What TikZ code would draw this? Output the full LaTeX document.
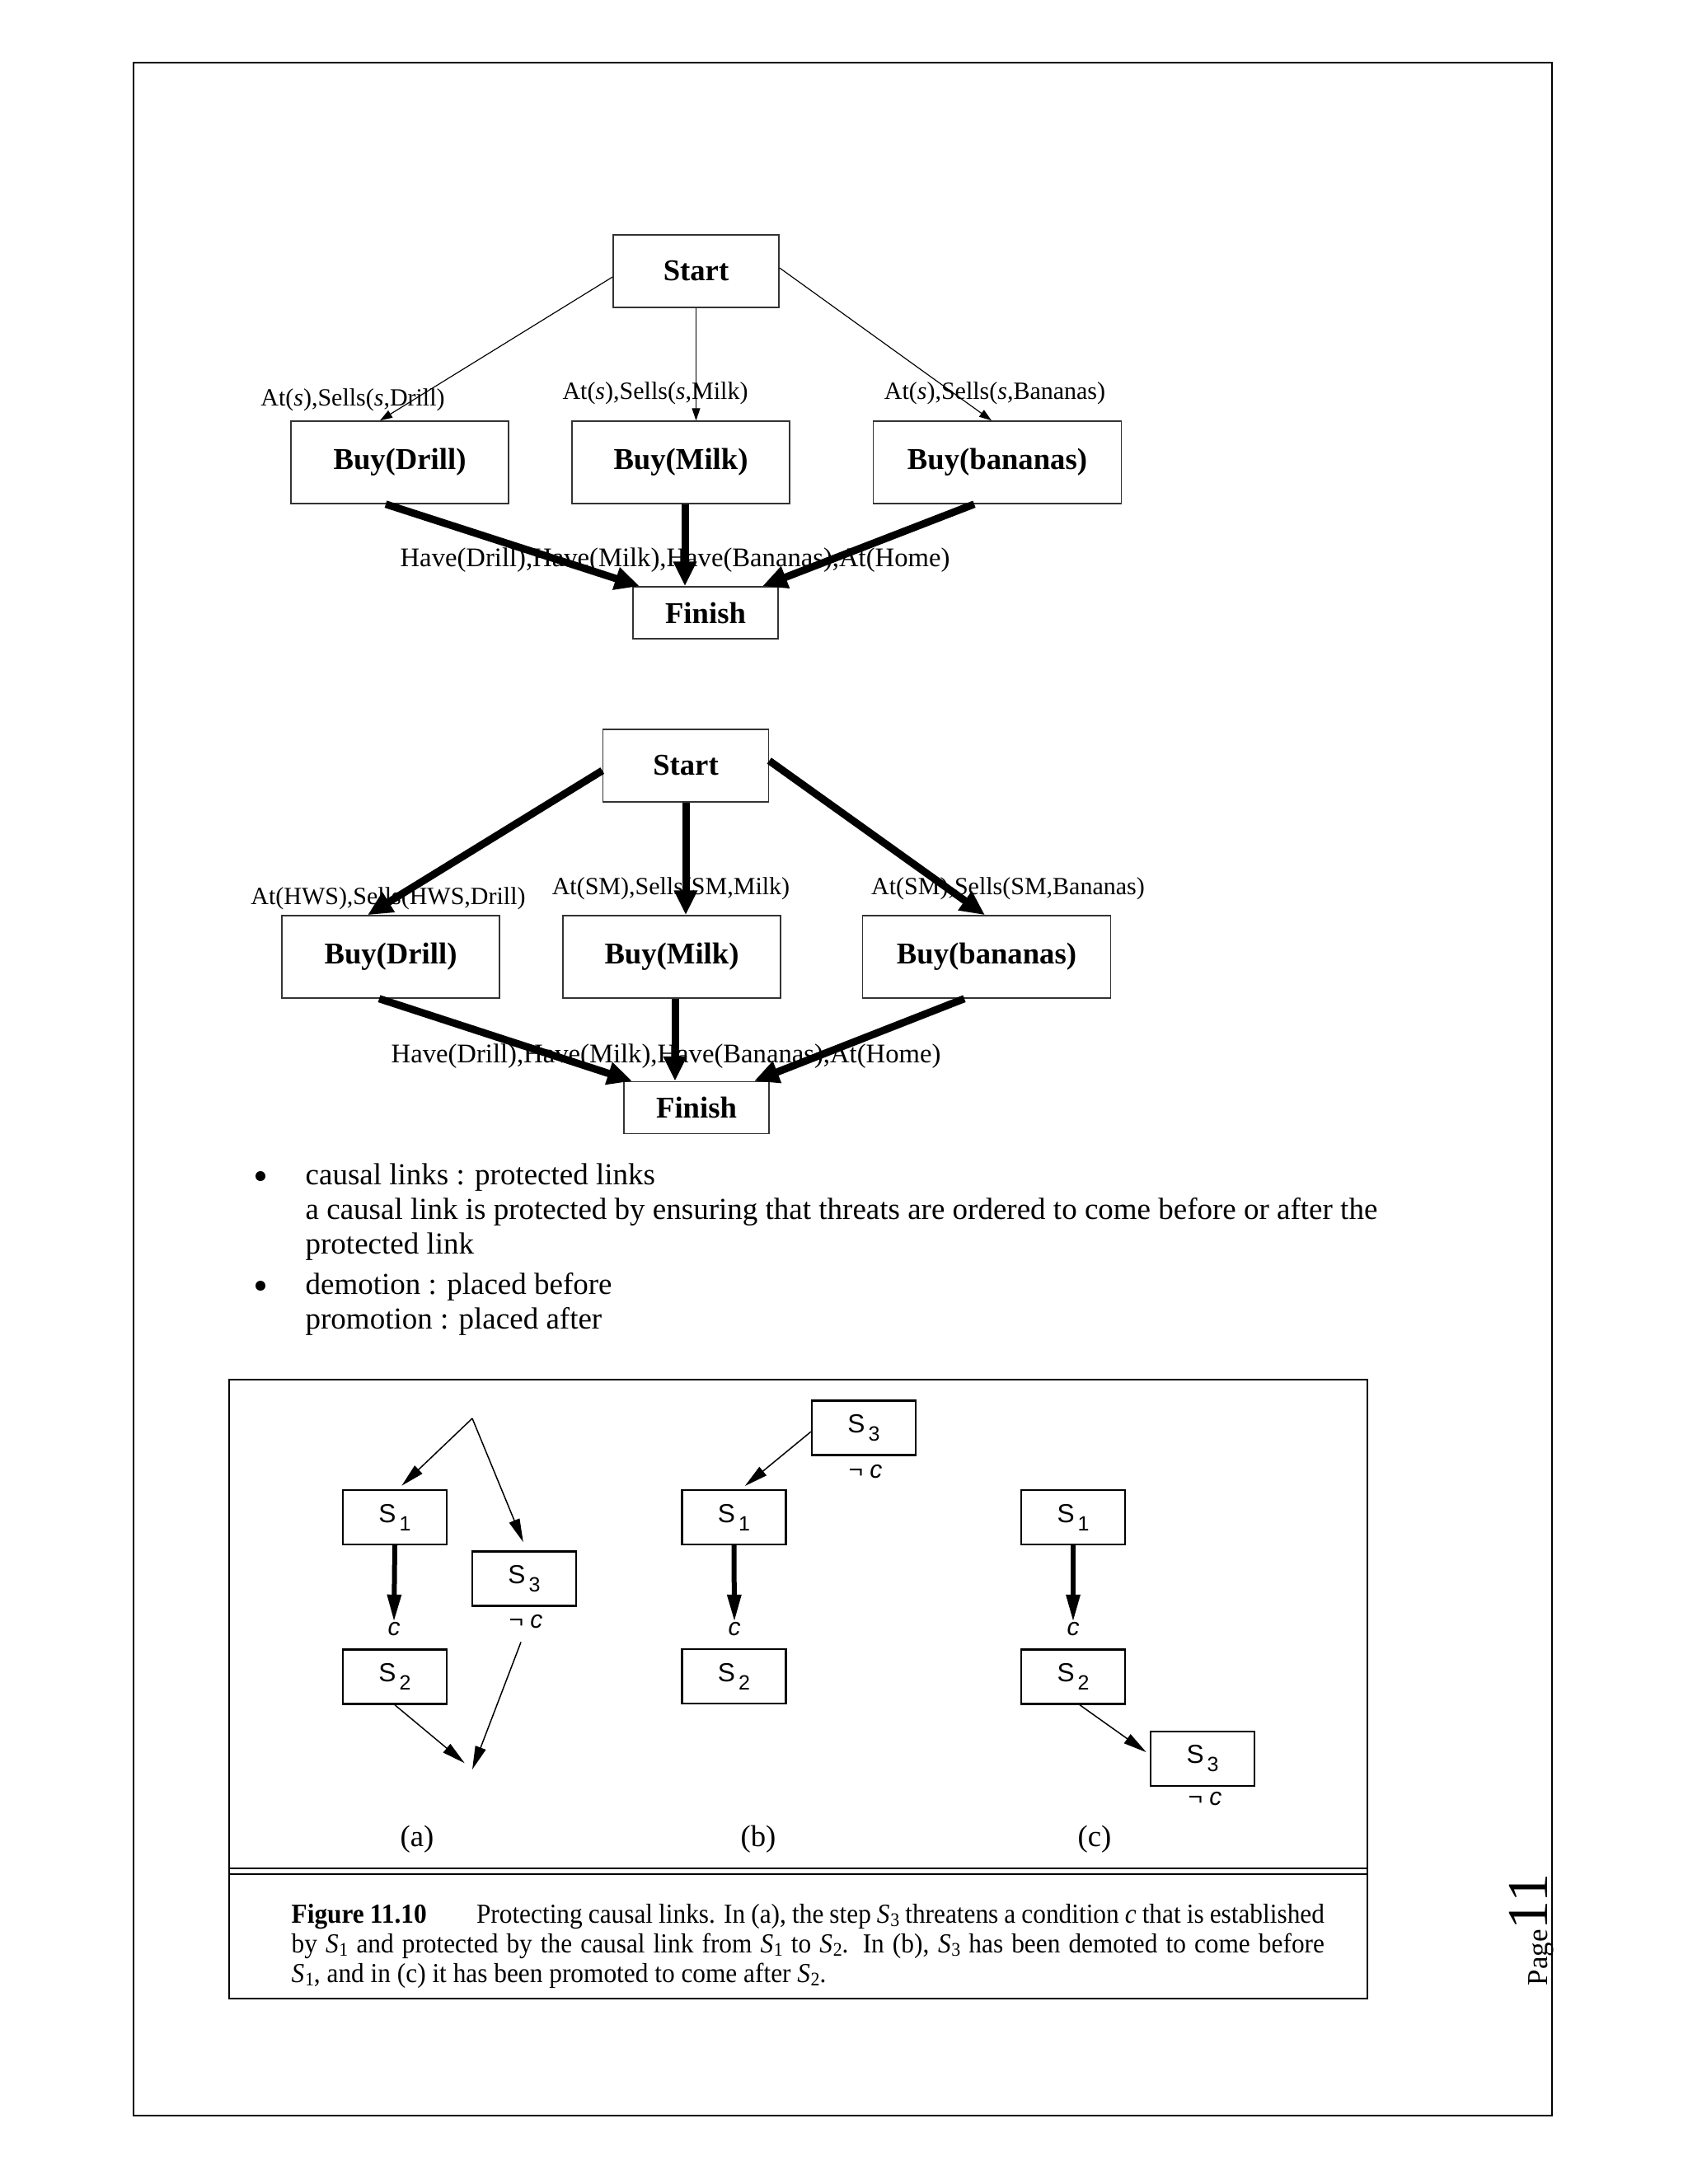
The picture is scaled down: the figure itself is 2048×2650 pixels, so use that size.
\documentclass[tikz,border=0pt]{standalone}
\usepackage{fontspec}
\setmainfont{Liberation Serif}
\setsansfont{Liberation Sans}
\newfontfamily\capfont[FakeStretch=0.94]{Liberation Serif}
\usetikzlibrary{arrows.meta,calc}
\newcommand{\Sx}[1]{\textit{S}\kern0.2pt\raisebox{-0.3ex}{\fontsize{7}{7}\selectfont #1}}
\newcommand{\Ss}[1]{S\kern1.2pt\raisebox{-0.6ex}{\fontsize{7.5}{7.5}\selectfont #1}}
\begin{document}
\begin{tikzpicture}[x=0.3pt,y=-0.3pt,
  gbox/.style={draw=black!80, line width=0.45pt, inner sep=0, font=\fontsize{11}{13}\selectfont\bfseries},
  startbox/.style={gbox, minimum width=60.3pt, minimum height=26.4pt},
  buybox/.style={gbox, minimum width=79.2pt, minimum height=30pt},
  bigbuybox/.style={gbox, minimum width=90.3pt, minimum height=30pt},
  finbox/.style={gbox, minimum width=52.8pt, minimum height=18.9pt},
  lbl/.style={font=\fontsize{9}{10}\selectfont, inner sep=0, anchor=base},
  havelbl/.style={font=\fontsize{9.8}{11}\selectfont, inner sep=0, anchor=base},
  thinarr/.style={line width=0.35pt, -{Triangle[length=4.5pt,width=3pt]}},
  thickarr/.style={line width=2.7pt, -{Triangle[length=9pt,width=8pt]}},
  txt/.style={font=\fontsize{11.1}{13}\selectfont, inner sep=0, anchor=base west},
  bul/.style={circle, fill=black, inner sep=0, minimum size=3.6pt},
  sbox/.style={draw, line width=0.7pt, inner sep=0, minimum width=37.8pt, minimum height=19.8pt, font=\sffamily\fontsize{9.5}{11}\selectfont},
  clbl/.style={inner sep=0, font=\sffamily\fontsize{9}{10}\selectfont},
  fthin/.style={line width=0.45pt, -{Triangle[length=8.5pt,width=4pt]}},
  fthick/.style={line width=1.8pt, -{Triangle[length=10pt,width=4.8pt]}},
  sublbl/.style={inner sep=0, font=\fontsize{11}{13}\selectfont},
  capline/.style={inner sep=0, anchor=base west, font=\capfont\fontsize{10}{12}\selectfont}
]
\fill[white] (0,0) rectangle (2048,2650);
\useasboundingbox (0,0) rectangle (2048,2650);

% page frame
\draw[line width=0.6pt] (162,76) rectangle (1883,2567);

% ---------- diagram 1 ----------
\node[startbox] (Start1) at (844.5,329) {Start};
\node[buybox] (Drill1) at (485,561) {Buy(Drill)};
\node[buybox] (Milk1) at (826,561) {Buy(Milk)};
\node[bigbuybox] (Ban1) at (1210,561) {Buy(bananas)};
\node[finbox] (Fin1) at (856,743.5) {Finish};

\node[lbl] (L11) at (428,492) {At(\textit{s}),Sells(\textit{s},Drill)};
\node[lbl] (L12) at (795,484) {At(\textit{s}),Sells(\textit{s},Milk)};
\node[lbl] (L13) at (1207,484) {At(\textit{s}),Sells(\textit{s},Bananas)};
\node[havelbl] (H1) at (819,687) {Have(Drill),Have(Milk),Have(Bananas),At(Home)};

\draw[thinarr] ([yshift=-2.1pt]Start1.west) -- ([xshift=-7.2pt]Drill1.north);
\draw[thinarr] (Start1.south) -- (Start1.south |- Milk1.north);
\draw[thinarr] ([yshift=1.2pt]Start1.east) -- ([xshift=-2.1pt]Ban1.north);
\coordinate (m1) at ([xshift=1.5pt]Milk1.south);
\draw[thickarr] ([xshift=-5.1pt]Drill1.south) -- ([xshift=-24pt]Fin1.north);
\draw[thickarr] (m1) -- (m1 |- Fin1.north);
\draw[thickarr] ([xshift=-8.4pt]Ban1.south) -- ([xshift=20.7pt]Fin1.north);

% ---------- diagram 2 ----------
\node[startbox] (Start2) at (832,929) {Start};
\node[buybox] (Drill2) at (474,1161) {Buy(Drill)};
\node[buybox] (Milk2) at (815,1161) {Buy(Milk)};
\node[bigbuybox] (Ban2) at (1197,1161) {Buy(bananas)};
\node[finbox] (Fin2) at (845,1344) {Finish};

\node[lbl] (L21) at (471,1097) {At(HWS),Sells(HWS,Drill)};
\node[lbl] (L22) at (814,1085) {At(SM),Sells(SM,Milk)};
\node[lbl] (L23) at (1223,1085) {At(SM),Sells(SM,Bananas)};
\node[havelbl] (H2) at (808,1289) {Have(Drill),Have(Milk),Have(Bananas),At(Home)};

\draw[thickarr] ([yshift=-1.8pt]Start2.west) -- ([xshift=-8.4pt]Drill2.north);
\draw[thickarr] (Start2.south) -- (Start2.south |- Milk2.north);
\draw[thickarr] ([yshift=1.8pt]Start2.east) -- ([xshift=-0.6pt]Ban2.north);
\coordinate (m2) at ([xshift=1.2pt]Milk2.south);
\draw[thickarr] ([xshift=-4.2pt]Drill2.south) -- ([xshift=-23.4pt]Fin2.north);
\draw[thickarr] (m2) -- (m2 |- Fin2.north);
\draw[thickarr] ([xshift=-8.1pt]Ban2.south) -- ([xshift=21pt]Fin2.north);

% ---------- bullet text ----------
\node[bul] (b1) at (316,1427) {};
\node[txt] (t1) at (370,1437) {causal links : protected links};
\node[txt] (t2) at (370,1479) {a causal link is protected by ensuring that threats are ordered to come before or after the};
\node[txt] (t3) at (370,1521) {protected link};
\node[bul] (b2) at (316,1560) {};
\node[txt] (t4) at (370,1570) {demotion : placed before};
\node[txt] (t5) at (370,1612) {promotion : placed after};

% ---------- figure 11.10 ----------
\draw[line width=0.6pt] (278,1674) rectangle (1659,2425);
\draw[line width=0.7pt] (278,2267) -- (1659,2267);
\draw[line width=0.5pt] (278,2274) -- (1659,2274);

% (a)
\coordinate (apex) at (573,1721);
\coordinate (bota) at (573,2147);
\node[sbox] (S1a) at (479,1841) {\Ss{1}};
\node[sbox] (S2a) at (479,2034.5) {\Ss{2}};
\node[sbox] (S3a) at (636,1915.5) {\Ss{3}};
\node[clbl] (ca) at (478,1977) {\textit{c}};
\node[clbl] (nca) at (638,1968) {¬ \textit{c}};
\draw[fthin, shorten >=1.8pt] (apex) -- ([xshift=1.2pt]S1a.north);
\draw[fthin, shorten >=3.3pt] (apex) -- ([xshift=0.9pt]S3a.north);
\draw[fthick] (S1a.south) -- (ca.north);
\draw[fthin, shorten >=3.6pt] (S2a.south) -- (bota);
\draw[fthin, shorten <=5pt] (nca.south) -- (bota);
\node[sublbl] (la) at (506,2232) {(a)};

% (b)
\node[sbox] (S3b) at (1048,1732.5) {\Ss{3}};
\node[sbox] (S1b) at (890.5,1841) {\Ss{1}};
\node[sbox] (S2b) at (890.5,2034) {\Ss{2}};
\node[clbl] (cb) at (891,1977) {\textit{c}};
\node[clbl] (ncb) at (1050,1786) {¬ \textit{c}};
\draw[fthin, shorten >=1.8pt] ([yshift=-1.4pt]S3b.west) -- ([xshift=2.6pt]S1b.north);
\draw[fthick] (S1b.south) -- (cb.north);
\node[sublbl] (lb) at (920,2232) {(b)};

% (c)
\node[sbox] (S1c) at (1302,1841) {\Ss{1}};
\node[sbox] (S2c) at (1302,2034.5) {\Ss{2}};
\node[sbox] (S3c) at (1459,2134) {\Ss{3}};
\node[clbl] (cc) at (1302,1977) {\textit{c}};
\node[clbl] (ncc) at (1462,2183) {¬ \textit{c}};
\draw[fthick] (S1c.south) -- (cc.north);
\draw[fthin, shorten >=1.5pt] ([xshift=2.4pt]S2c.south) -- ([yshift=1.5pt]S3c.west);
\node[sublbl] (lc) at (1328,2232) {(c)};

% caption
\node[capline] (cap1) at (353,2333) {\makebox[376pt][s]{\textbf{Figure 11.10}\hspace{19pt plus 3pt minus 3pt}Protecting causal links. In (a), the step \Sx{3} threatens a condition \textit{c} that is established}};
\node[capline] (cap2) at (353,2369) {\makebox[376pt][s]{by \Sx{1} and protected by the causal link from \Sx{1} to \Sx{2}. In (b), \Sx{3} has been demoted to come before}};
\node[capline] (cap3) at (353,2405) {\Sx{1}, and in (c) it has been promoted to come after \Sx{2}.};

% page number
\node[rotate=90, anchor=base west, inner sep=0] (pg) at (1877,2410) {\fontsize{10.5}{12}\selectfont Page\fontsize{21}{23}\selectfont 11};
\end{tikzpicture}
\end{document}
